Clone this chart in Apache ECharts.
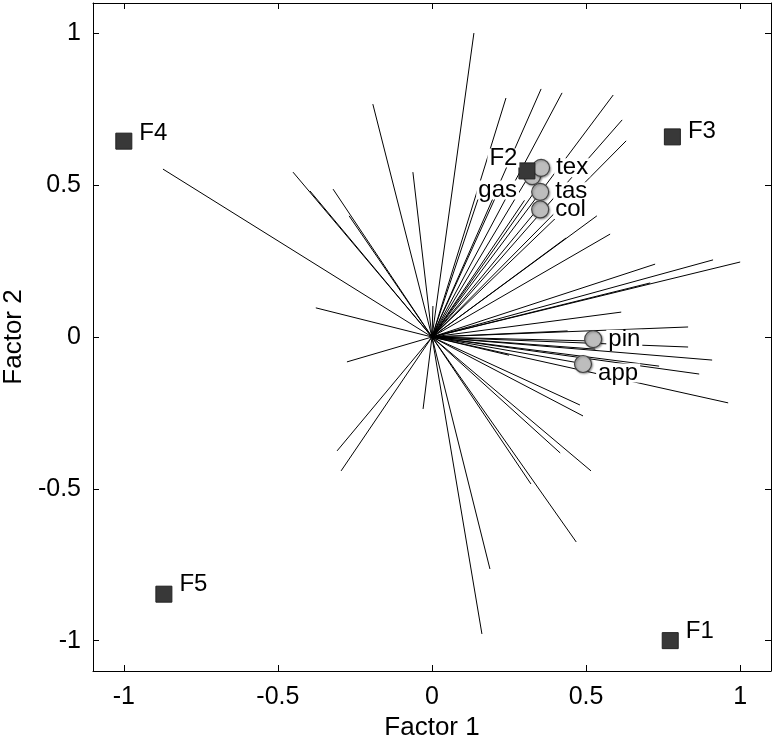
<!DOCTYPE html>
<html>
<head>
<meta charset="utf-8">
<script src="https://cdn.jsdelivr.net/npm/echarts@6/dist/echarts.min.js"></script>
<style>
html,body{margin:0;padding:0;background:#fff;}
#chart{width:773px;height:741px;}
</style>
</head>
<body>
<div id="chart"></div>
<script>
// Loadings (lines drawn from origin)
const loadX = [0.136,-0.192,-0.062,-0.451,-0.396,-0.321,-0.269,-0.873,-0.377,-0.276,-0.308,-0.295,-0.029,
  0.162,0.188,0.468,0.321,0.516,0.416,0.490,0.480,
  0.240,0.354,0.422,0.588,0.617,0.630,0.535,0.578,0.435,0.724,0.912,1.000,0.708,0.614,
  0.831,0.831,0.909,0.867,0.737,0.961,
  0.003,0.350,0.334,0.320,0.156,0.215,0.513,0.480,0.530,0.410,0.300,0.440,0.250];
const loadY = [1.001,0.767,0.543,0.543,0.481,0.487,0.399,0.553,0.096,-0.082,-0.375,-0.441,-0.237,
  -0.978,-0.764,-0.675,-0.484,-0.441,-0.382,-0.260,-0.224,
  0.787,0.817,0.804,0.797,0.715,0.646,0.399,0.339,0.326,0.240,0.254,0.247,0.178,0.082,
  0.033,-0.033,-0.076,-0.122,-0.096,-0.217,
  0.102,0.430,0.480,0.540,0.474,0.480,-0.013,-0.086,-0.040,0.400,0.450,0.020,-0.060];

// Attribute points (circles)
const attrNames = ['gas','tex','tas','col','pin','app'];
const attrX = [0.325,0.354,0.351,0.351,0.523,0.490];
const attrY = [0.530,0.557,0.478,0.420,-0.007,-0.089];

// Factor points (squares)
const facNames = ['F1','F2','F3','F4','F5'];
const facX = [0.773,0.308,0.780,-1.000,-0.870];
const facY = [-1.000,0.547,0.659,0.645,-0.847];

// Axis ticks
const ticks = [-1,-0.5,0,0.5,1];

const FONT = '"Liberation Sans", Arial, Helvetica, sans-serif';

const attrLabelPos = {
  gas:{position:'left',distance:4,offset:[0,14]},
  tex:{position:'right',distance:4,offset:[0,0]},
  tas:{position:'right',distance:4,offset:[0,0]},
  col:{position:'right',distance:4,offset:[0,0]},
  pin:{position:'right',distance:4,offset:[0,0]},
  app:{position:'right',distance:4,offset:[0,9]}
};
const facLabelPos = {
  F1:{position:'right',distance:5,offset:[0,-9]},
  F2:{position:'left',distance:-1,offset:[0,-13]},
  F3:{position:'right',distance:5,offset:[0,-6]},
  F4:{position:'right',distance:5,offset:[0,-8]},
  F5:{position:'right',distance:5,offset:[0,-10]}
};

const labelBase = {show:true, fontFamily:FONT, fontSize:24, color:'#000',
  backgroundColor:'#fff', padding:[0,2], lineHeight:19};

function axisCommon(extra){
  return Object.assign({
    type:'value', min:-1.1, max:1.1,
    axisLine:{show:true,onZero:false,lineStyle:{color:'#000',width:1}},
    axisTick:{show:true,inside:true,length:6,customValues:ticks,lineStyle:{color:'#000',width:1}},
    splitLine:{show:false}
  }, extra);
}

const chart = echarts.init(document.getElementById('chart'), null, {renderer:'canvas'});
chart.setOption({
  animation:false,
  backgroundColor:'#fff',
  grid:{left:93,top:3,width:678,height:668,containLabel:false,outerBoundsMode:'none'},
  xAxis:[
    axisCommon({position:'bottom', name:'Factor 1', nameLocation:'middle', nameGap:37,
      nameTextStyle:{fontFamily:FONT,fontSize:26,color:'#000'},
      axisLabel:{show:true,customValues:ticks,fontFamily:FONT,fontSize:25,color:'#000',margin:14}}),
    axisCommon({position:'top', axisLabel:{show:false}})
  ],
  yAxis:[
    axisCommon({position:'left', name:'Factor 2', nameLocation:'middle', nameGap:61,
      nameTextStyle:{fontFamily:FONT,fontSize:26,color:'#000'},
      axisLabel:{show:true,customValues:ticks,fontFamily:FONT,fontSize:25,color:'#000',margin:12}}),
    axisCommon({position:'right', axisLabel:{show:false}})
  ],
  series:[
    {
      type:'lines', coordinateSystem:'cartesian2d', xAxisIndex:0, yAxisIndex:0,
      silent:true, z:2,
      lineStyle:{color:'#000',width:1,opacity:1},
      data: loadX.map((x,i)=>({coords:[[0,0],[x,loadY[i]]]}))
    },
    {
      type:'scatter', xAxisIndex:0, yAxisIndex:0, z:3, silent:true,
      symbol:'circle', symbolSize:17,
      itemStyle:{color:'#bdbdbd',borderColor:'#444',borderWidth:1.2,opacity:1,
        shadowBlur:2,shadowColor:'rgba(0,0,0,0.35)',shadowOffsetX:1,shadowOffsetY:1},
      data: attrNames.map((n,i)=>({value:[attrX[i],attrY[i]],name:n,
        label:Object.assign({},labelBase,{formatter:n},attrLabelPos[n])}))
    },
    {
      type:'scatter', xAxisIndex:0, yAxisIndex:0, z:4, silent:true,
      symbol:'rect', symbolSize:16,
      itemStyle:{color:'#383838',borderColor:'#222',borderWidth:1,opacity:1},
      data: facNames.map((n,i)=>({value:[facX[i],facY[i]],name:n,
        label:Object.assign({},labelBase,{formatter:n},facLabelPos[n])}))
    }
  ]
});
</script>
</body>
</html>
